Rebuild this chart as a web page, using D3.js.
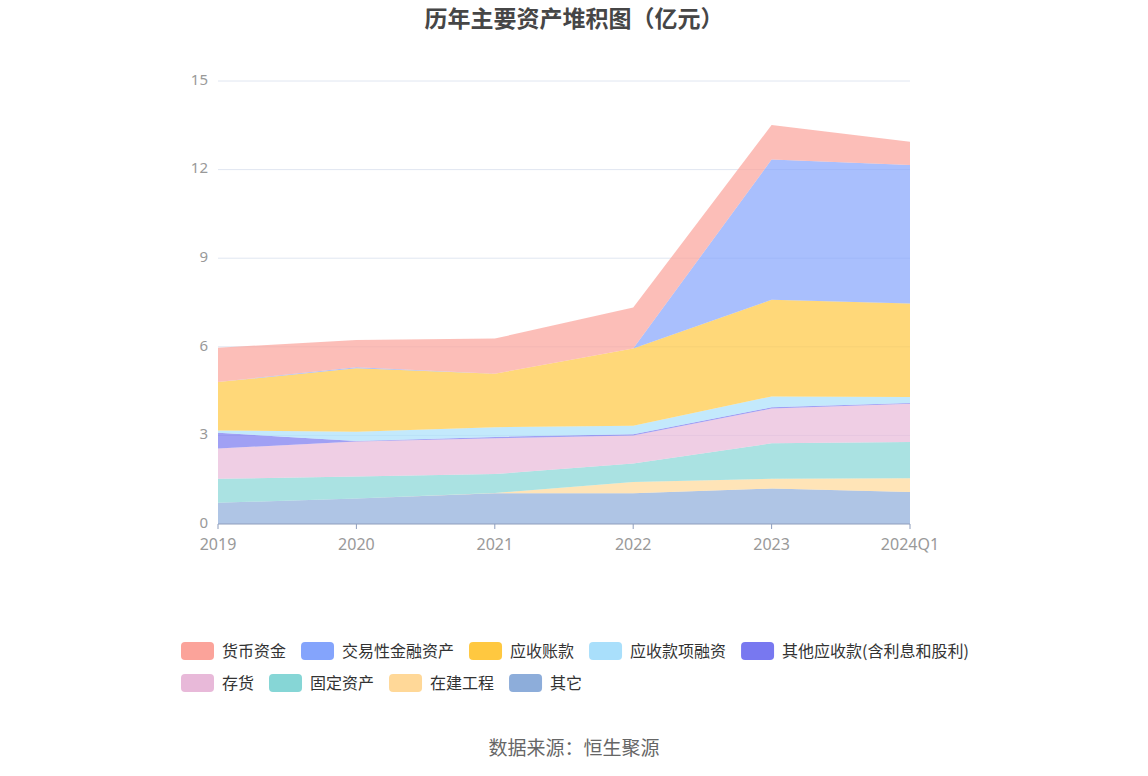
<!DOCTYPE html>
<html>
<head>
<meta charset="utf-8">
<script src="https://cdn.jsdelivr.net/npm/d3@7"></script>
<style>
  body { margin: 0; background: #fff; }
  svg text { font-family: "Noto Sans CJK SC", "Noto Sans", sans-serif; }
  svg text.num { font-family: "Noto Sans", sans-serif; }
</style>
</head>
<body>
<svg id="chart" width="1148" height="776"></svg>
<script>
// categories and series (亿元)
var years = ["2019", "2020", "2021", "2022", "2023", "2024Q1"];

var cash        = [1.16, 0.92, 1.19, 1.39, 1.17, 0.78];  // 货币资金
var trading     = [0, 0.04, 0, 0, 4.75, 4.69];           // 交易性金融资产
var receivable  = [1.64, 2.15, 1.81, 2.61, 3.27, 3.17];  // 应收账款
var recFinance  = [0.08, 0.31, 0.33, 0.29, 0.37, 0.20];  // 应收款项融资
var otherRec    = [0.53, 0.02, 0.05, 0.04, 0.04, 0.03];  // 其他应收款
var inventory   = [1.03, 1.18, 1.21, 0.95, 1.18, 1.29];  // 存货
var fixed       = [0.81, 0.75, 0.64, 0.63, 1.20, 1.23];  // 固定资产
var construct   = [0, 0, 0.01, 0.38, 0.33, 0.47];        // 在建工程
var others      = [0.72, 0.86, 1.04, 1.04, 1.20, 1.08];  // 其它

var yTicks = [0, 3, 6, 9, 12, 15];

// bottom to top
var series = [
    {name: "其它", values: others, color: "#8dadda"},
    {name: "在建工程", values: construct, color: "#ffd898"},
    {name: "固定资产", values: fixed, color: "#86d6d6"},
    {name: "存货", values: inventory, color: "#e8b9d9"},
    {name: "其他应收款(含利息和股利)", values: otherRec, color: "#7878f0"},
    {name: "应收款项融资", values: recFinance, color: "#a9dffb"},
    {name: "应收账款", values: receivable, color: "#ffc840"},
    {name: "交易性金融资产", values: trading, color: "#84a4fc"},
    {name: "货币资金", values: cash, color: "#fba39a"}
];

var svg = d3.select("#chart"),
    margin = {top: 81, left: 218, right: 238, bottom: 252},
    width = 1148 - margin.left - margin.right,
    height = 776 - margin.top - margin.bottom;

var x = d3.scalePoint().domain(years).range([0, width]);
var y = d3.scaleLinear().domain([0, 15]).range([height, 0]);

var rows = years.map(function(yr, i) {
    var r = {year: yr};
    series.forEach(function(s) { r[s.name] = s.values[i]; });
    return r;
});

var stack = d3.stack().keys(series.map(function(s) { return s.name; }));
var layers = stack(rows);

var g = svg.append("g")
    .attr("transform", "translate(" + margin.left + "," + margin.top + ")");

// grid
g.append("g")
    .selectAll("line")
    .data(yTicks.slice(1))
    .enter().append("line")
    .attr("x1", 0).attr("x2", width)
    .attr("y1", function(d) { return y(d); })
    .attr("y2", function(d) { return y(d); })
    .attr("stroke", "#e0e6f1");

var area = d3.area()
    .x(function(d) { return x(d.data.year); })
    .y0(function(d) { return y(d[0]); })
    .y1(function(d) { return y(d[1]); });

g.selectAll(".layer")
    .data(layers)
    .enter().append("path")
    .attr("class", "layer")
    .attr("fill", function(d, i) { return series[i].color; })
    .attr("fill-opacity", 0.7)
    .attr("d", area);

// y labels
g.append("g")
    .selectAll("text")
    .data(yTicks)
    .enter().append("text")
    .attr("class", "num")
    .attr("x", -10)
    .attr("y", function(d) { return y(d); })
    .attr("dy", "0.25em")
    .attr("text-anchor", "end")
    .attr("fill", "#999")
    .style("font-size", "15px")
    .text(function(d) { return d; });

// x axis
var xAxis = g.append("g")
    .attr("transform", "translate(0," + height + ")");

xAxis.append("line")
    .attr("x1", 0).attr("x2", width)
    .attr("stroke", "#8e9dbc");

xAxis.selectAll(".tick")
    .data(years)
    .enter().append("line")
    .attr("x1", function(d) { return x(d); })
    .attr("x2", function(d) { return x(d); })
    .attr("y1", 0).attr("y2", 5)
    .attr("stroke", "#8e9dbc");

xAxis.selectAll("text")
    .data(years)
    .enter().append("text")
    .attr("class", "num")
    .attr("x", function(d) { return x(d); })
    .attr("y", 20)
    .attr("dy", "0.35em")
    .attr("text-anchor", "middle")
    .attr("fill", "#999")
    .style("font-size", "16px")
    .text(function(d) { return d; });

// title
svg.append("text")
    .attr("x", 574)
    .attr("y", 27)
    .attr("text-anchor", "middle")
    .attr("fill", "#464646")
    .style("font-size", "23px")
    .style("font-weight", "bold")
    .text("历年主要资产堆积图（亿元）");

// legend
var legendRows = [
    ["货币资金", "交易性金融资产", "应收账款", "应收款项融资", "其他应收款(含利息和股利)"],
    ["存货", "固定资产", "在建工程", "其它"]
];
var colorOf = {};
series.forEach(function(s) { colorOf[s.name] = s.color; });

legendRows.forEach(function(names, r) {
    var cx = 181, cy = 651 + r * 32;
    names.forEach(function(name) {
        var item = svg.append("g");
        item.append("rect")
            .attr("x", cx).attr("y", cy - 9)
            .attr("width", 33).attr("height", 18)
            .attr("rx", 4)
            .attr("fill", colorOf[name]);
        var t = item.append("text")
            .attr("x", cx + 41)
            .attr("y", cy)
            .attr("dy", "0.35em")
            .attr("fill", "#333")
            .style("font-size", "16px")
            .text(name);
        cx += 41 + t.node().getComputedTextLength() + 15;
    });
});

// source
svg.append("text")
    .attr("x", 574)
    .attr("y", 748)
    .attr("dy", "0.35em")
    .attr("text-anchor", "middle")
    .attr("fill", "#666")
    .style("font-size", "19px")
    .text("数据来源：恒生聚源");
</script>
</body>
</html>
